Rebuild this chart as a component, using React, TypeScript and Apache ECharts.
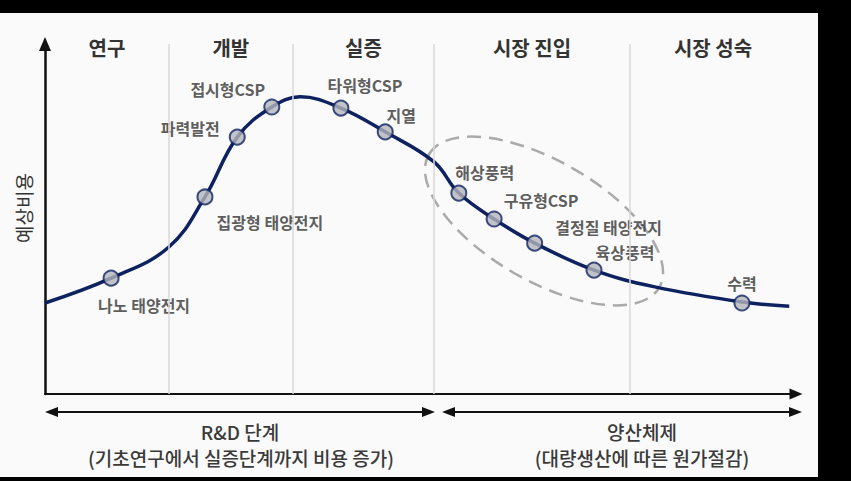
import React, { useEffect, useRef } from "react";
import * as echarts from "echarts";

// Stage boundaries (x axis, relative development progress 0-100)
const stageNames = ["연구", "개발", "실증", "시장 진입", "시장 성숙"];
const stageBounds = [0, 16.5, 33.0, 51.8, 77.9, 100];

// Cost curve (x = progress, y = expected cost)
const curveX = [0, 8.8, 16.5, 21.3, 25.6, 30.2, 34.0, 39.4, 45.3, 51.8, 55.1, 59.8, 65.2, 73.1, 81.2, 92.8, 99.1];
const curveY = [26.0, 33.1, 42.0, 56.3, 73.4, 82.0, 84.9, 81.7, 74.9, 66.3, 57.4, 50.0, 43.1, 35.4, 30.6, 26.3, 25.1];

// Technologies on the curve
const techNames = ["나노 태양전지", "집광형 태양전지", "파력발전", "접시형CSP", "타워형CSP", "지열", "해상풍력", "구유형CSP", "결정질 태양전지", "육상풍력", "수력"];
const techX = [8.8, 21.3, 25.6, 30.2, 39.4, 45.3, 55.1, 59.8, 65.2, 73.1, 92.8];
const techY = [33.1, 56.3, 73.4, 82.0, 81.7, 74.9, 57.4, 50.0, 43.1, 35.4, 26.0];

// label placement (layout only)
const labelOffsets: [number, number][] = [
  [33, 27], [65, 25], [-47, -9], [-44, -18], [24, -23], [16, -17],
  [26, -21], [47, -19], [74, -16], [31, -18], [0, -20],
];

const FONT = "'Noto Sans CJK KR', 'Noto Sans', sans-serif";
const TEXT = "#333333";
const NAVY = "#0e2260";

export default function App() {
  const ref = useRef<HTMLDivElement>(null);
  useEffect(() => {
    if (!ref.current) return;
    const chart = echarts.init(ref.current, undefined, { renderer: "svg" });

    const markAreaData = stageNames.map((n, i) => [
      { xAxis: stageBounds[i], name: n },
      { xAxis: stageBounds[i + 1] },
    ]);
    const dividerData = stageBounds.slice(1, -1).map((b) => ({ xAxis: b }));

    const arrow = (x1: number, x2: number, y: number) => [
      { type: "line", shape: { x1: x1 + 10, y1: y, x2: x2 - 10, y2: y }, style: { stroke: "#111", lineWidth: 2 } },
      { type: "polygon", shape: { points: [[x1, y], [x1 + 13, y - 5], [x1 + 13, y + 5]] }, style: { fill: "#111" } },
      { type: "polygon", shape: { points: [[x2, y], [x2 - 13, y - 5], [x2 - 13, y + 5]] }, style: { fill: "#111" } },
    ];

    const textEl = (t: string, x: number, y: number) => ({
      type: "text",
      x,
      y,
      style: {
        text: t,
        fill: "#3a3a3a",
        font: `500 19px ${FONT}`,
        textAlign: "center",
        textVerticalAlign: "middle",
      },
    });

    chart.setOption({
      animation: false,
      backgroundColor: "transparent",
      grid: { left: 45, right: 55, top: 44, bottom: 87 },
      xAxis: {
        type: "value",
        min: 0,
        max: 100,
        axisLine: { show: true, lineStyle: { color: "#111", width: 2 }, symbol: ["none", "triangle"], symbolSize: [11, 13] },
        axisTick: { show: false },
        axisLabel: { show: false },
        splitLine: { show: false },
      },
      yAxis: {
        type: "value",
        min: 0,
        max: 100,
        name: "예상비용",
        nameLocation: "middle",
        nameRotate: 90,
        nameGap: 12,
        nameTextStyle: { fontFamily: FONT, fontSize: 19, color: TEXT, padding: [0, 0, 0, 22] },
        axisLine: { show: true, lineStyle: { color: "#111", width: 2.5 }, symbol: ["none", "triangle"], symbolSize: [12, 14] },
        axisTick: { show: false },
        axisLabel: { show: false },
        splitLine: { show: false },
      },
      graphic: [
        {
          type: "ellipse",
          x: 544,
          y: 221,
          rotation: -Math.PI / 6,
          shape: { cx: 0, cy: 0, rx: 133, ry: 60 },
          style: { fill: "none", stroke: "#aaaaaa", lineWidth: 2.5, lineDash: [14, 8] },
          z: 1,
        },
        ...arrow(45, 435, 412),
        ...arrow(442, 802, 412),
        textEl("R&D 단계", 240, 431),
        textEl("(기초연구에서 실증단계까지 비용 증가)", 241, 457),
        textEl("양산체제", 642, 431),
        textEl("(대량생산에 따른 원가절감)", 642, 457),
      ],
      series: [
        {
          type: "line",
          data: [],
          z: 1,
          silent: true,
          markLine: {
            silent: true,
            symbol: ["none", "none"],
            label: { show: false },
            lineStyle: { color: "#d9d9d9", width: 1.5, type: "solid" },
            data: dividerData,
          },
          markArea: {
            silent: true,
            itemStyle: { color: "rgba(0,0,0,0)" },
            label: {
              show: true,
              position: "insideTop",
              distance: 0,
              offset: [0, -7],
              fontFamily: FONT,
              fontSize: 20,
              fontWeight: "bold",
              color: TEXT,
            },
            data: markAreaData,
          },
        },
        {
          type: "line",
          z: 3,
          smooth: 0.4,
          symbol: "none",
          lineStyle: { color: NAVY, width: 3.5 },
          data: curveX.map((x, i) => [x, curveY[i]]),
          silent: true,
        },
        {
          type: "scatter",
          z: 4,
          symbolSize: 15,
          itemStyle: { color: "#b3b5bb", borderColor: NAVY, borderWidth: 2 },
          data: techNames.map((n, i) => ({
            name: n,
            value: [techX[i], techY[i]],
            label: { offset: labelOffsets[i] },
          })),
          label: {
            show: true,
            position: "inside",
            formatter: "{b}",
            fontFamily: FONT,
            fontSize: 16,
            fontWeight: "bold",
            color: TEXT,
          },
          silent: true,
        },
      ],
    });
    return () => chart.dispose();
  }, []);

  return (
    <div style={{ position: "fixed", left: 0, top: 0, width: 851, height: 481, background: "#000" }}>
      <div style={{ position: "absolute", left: 0, top: 13, width: 818, height: 464, background: "#fafafa" }} />
      <div ref={ref} style={{ position: "absolute", left: 0, top: 0, width: 851, height: 481 }} />
    </div>
  );
}
